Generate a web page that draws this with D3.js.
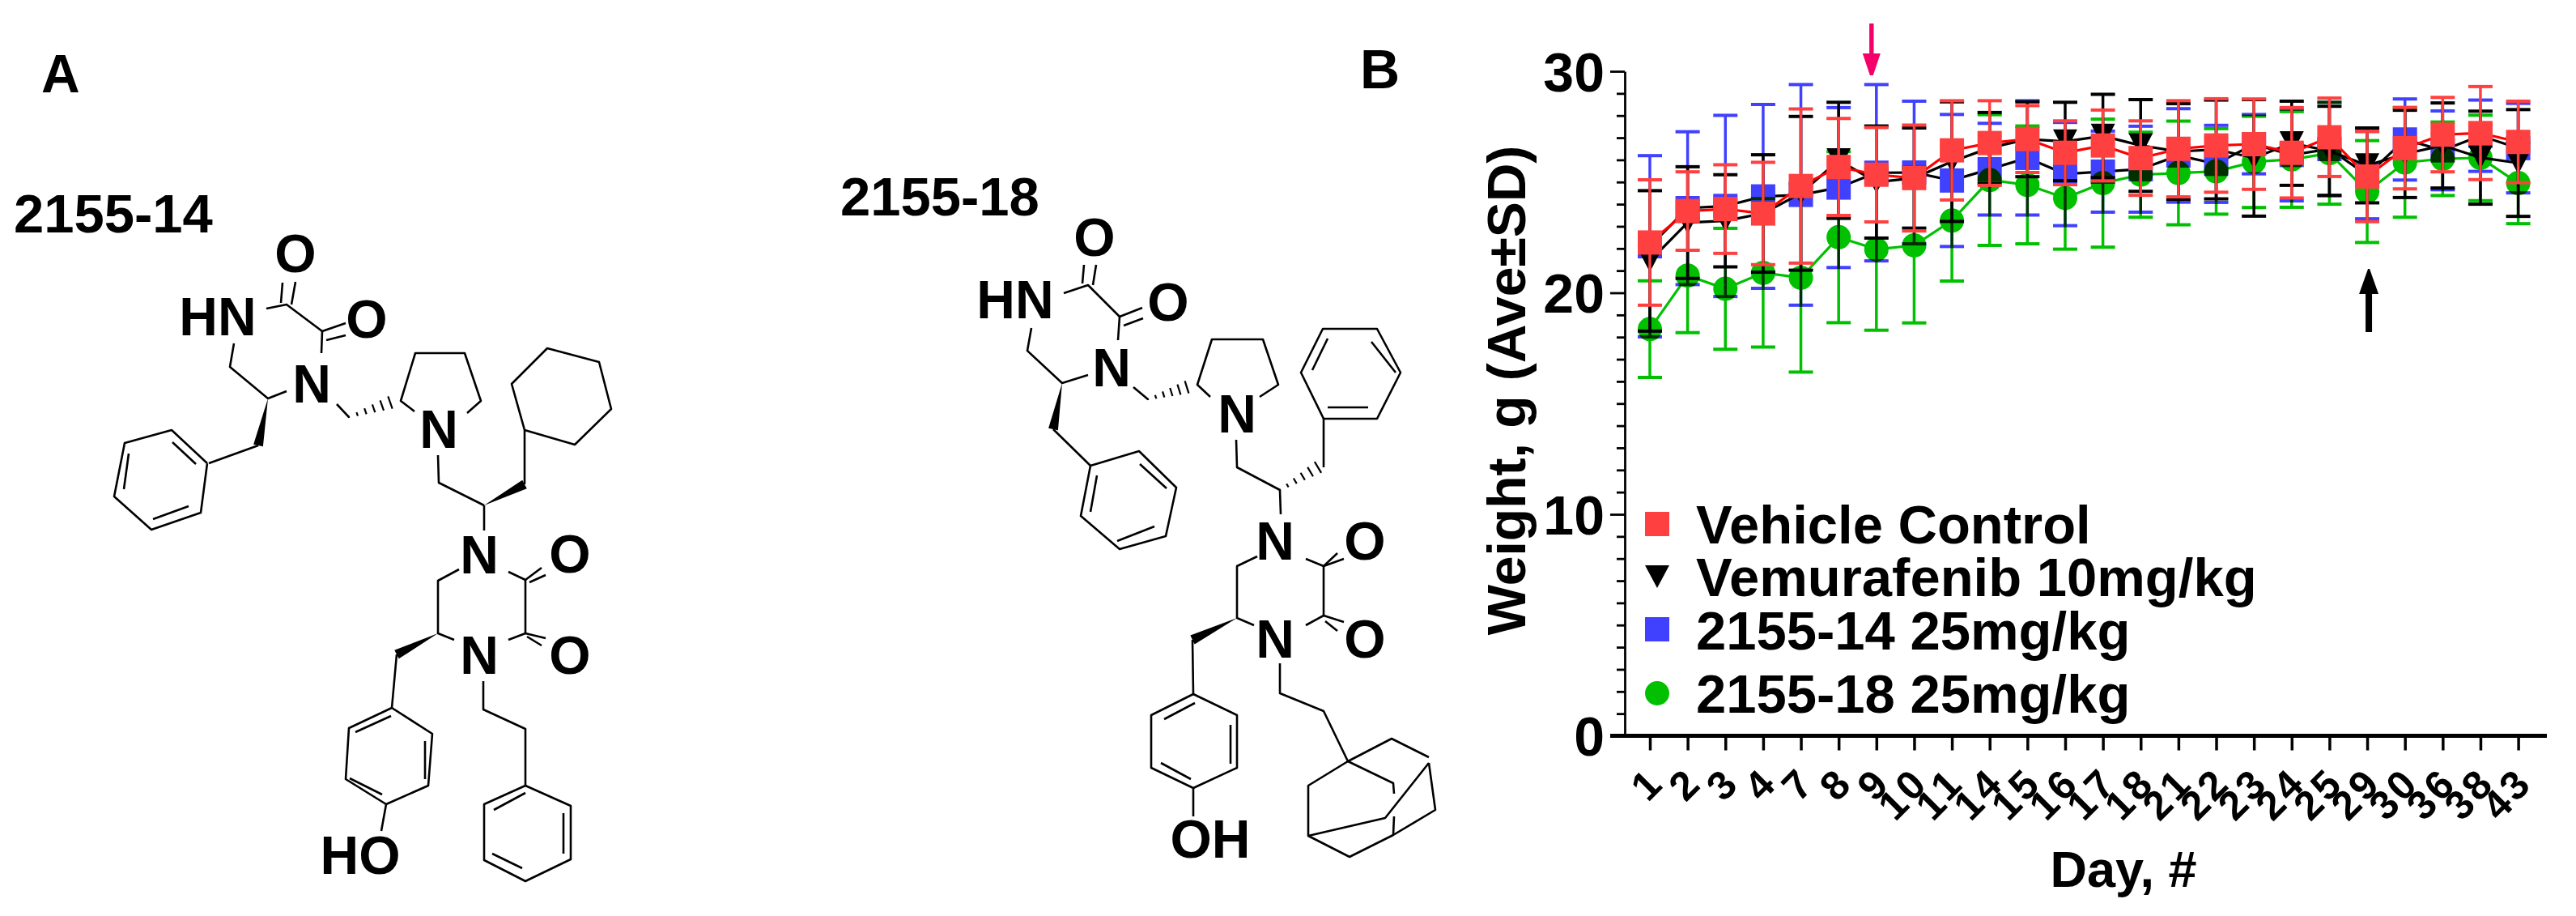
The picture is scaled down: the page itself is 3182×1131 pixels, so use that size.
<!DOCTYPE html>
<html><head><meta charset="utf-8">
<script src="https://cdn.jsdelivr.net/npm/d3@7"></script>
<style>html,body{margin:0;background:#fff}svg{display:block}text{font-family:"Liberation Sans",Arial,sans-serif;font-weight:bold;fill:#000}</style>
</head><body><div id="c"></div>
<script>
const days=[1,2,3,4,7,8,9,10,11,14,15,16,17,18,21,22,23,24,25,29,30,36,38,43];
const vehicleMean=[22.27,23.69,23.78,23.58,24.82,25.68,25.33,25.18,26.43,26.76,26.94,26.32,26.65,26.08,26.50,26.65,26.71,26.32,27.02,25.25,26.53,27.14,27.21,26.81];
const vehicleSD=[2.83,1.77,2.00,2.31,3.48,2.19,2.13,2.39,2.24,1.91,1.51,1.44,1.60,1.68,2.17,2.11,2.04,2.04,1.77,2.04,1.84,1.68,2.10,1.84];
const vemuMean=[21.44,23.17,23.25,23.58,24.49,25.98,25.00,25.18,25.92,26.54,26.93,26.83,27.08,26.65,26.38,26.47,26.09,26.75,26.41,25.75,26.27,26.65,26.10,25.86];
const vemuSD=[3.17,2.52,2.08,2.65,3.47,2.62,2.53,2.26,2.70,1.60,1.69,1.77,1.88,2.07,2.16,2.23,2.63,1.90,2.01,1.69,1.97,1.92,2.10,2.41];
const c14Mean=[22.10,23.82,23.92,24.35,24.42,24.75,25.42,25.43,25.07,25.58,26.09,25.36,25.47,25.58,26.20,25.82,26.71,26.22,26.49,25.31,26.92,26.43,27.09,26.53];
const c14SD=[4.09,3.45,4.09,4.15,4.98,3.61,3.98,3.22,2.98,2.07,2.58,2.33,1.83,1.94,2.11,1.74,1.34,2.07,2.11,1.97,1.83,1.78,1.61,2.02];
const c18Mean=[18.36,20.78,20.18,20.90,20.68,22.51,21.96,22.14,23.26,25.09,24.87,24.28,24.95,25.33,25.41,25.48,25.91,26.02,26.30,24.57,25.88,26.05,26.09,24.95];
const c18SD=[2.18,2.58,2.73,3.35,4.26,3.86,3.65,3.50,2.73,2.95,2.66,2.31,2.89,1.92,2.34,1.93,2.06,2.16,2.30,2.30,2.47,1.66,1.93,1.83];
const seriesNames=["Vehicle Control","Vemurafenib 10mg/kg","2155-14 25mg/kg","2155-18 25mg/kg"];
const yTicks=d3.range(0,31);
const yLabelled=[0,10,20,30];

// molecule drawings: polylines of image points
const bonds14=[
[[349,349],[347,374]],[[365,348],[360,376]],[[329,381],[354,376],[398,409],[427,399]],[[403,420],[427,414]],[[398,409],[397,436]],
[[354,483],[331,492],[284,453],[289,424]],[[319,550],[258,572]],
[[256,572],[248,633],[187,654],[141,613],[154,547],[212,531],[256,572]],[[213,546],[242,573]],[[159,560],[153,604]],[[189,641],[233,625]],
[[416,499],[431,515]],[[512,508],[495,495],[513,436],[574,436],[594,495],[577,510]],
[[541,562],[542,596],[598,624]],[[648,598],[648,531]],
[[648,531],[710,549],[755,505],[740,447],[676,430],[632,474],[648,531]],
[[598,624],[598,655]],[[567,703],[541,717],[541,782],[561,790]],
[[628,706],[649,716],[669,701]],[[654,719],[674,710]],[[649,716],[649,782],[628,790]],[[649,782],[674,788]],[[651,786],[669,797]],
[[490,808],[484,874]],
[[484,874],[534,906],[529,970],[477,993],[427,962],[431,899],[484,874]],[[439,904],[483,884]],[[525,915],[525,962]],[[432,961],[472,981]],[[477,993],[471,1026]],
[[597,841],[597,876],[649,900],[649,970]],
[[649,970],[705,995],[705,1061],[649,1088],[598,1062],[598,993],[649,970]],[[610,1000],[649,979]],[[696,1004],[696,1054]],[[608,1054],[645,1072]]
];
const wedges14=[[[331,492],[319,550]],[[598,624],[648,598]],[[541,782],[490,808]]];
const hashes14=[[[431,515],[482,497]]];
const atoms14=[["O",365,312],["HN",269,390],["O",453,393],["N",385,473],["N",542,529],["N",592,684],["O",704,683],["N",592,808],["O",704,808],["HO",445,1055]];
const bonds18=[
[[1339,327],[1337,350]],[[1354,327],[1350,352]],[[1314,362],[1344,352],[1383,391],[1411,380]],[[1388,402],[1412,393]],[[1383,391],[1381,420]],
[[1344,463],[1312,473],[1269,433],[1274,405]],[[1301,530],[1347,575]],
[[1347,575],[1407,557],[1453,602],[1440,662],[1383,678],[1335,637],[1347,575]],[[1408,573],[1441,603]],[[1355,587],[1347,632]],[[1380,668],[1426,650]],
[[1400,478],[1418,493]],[[1495,490],[1479,475],[1497,419],[1560,419],[1579,475],[1556,490]],
[[1527,543],[1528,577],[1581,605]],[[1635,577],[1635,517]],
[[1635,517],[1701,517],[1730,460],[1701,406],[1634,406],[1607,460],[1635,517]],[[1640,503],[1690,503]],[[1694,422],[1724,460]],[[1640,418],[1621,457]],
[[1581,605],[1582,635]],[[1553,687],[1528,699],[1528,763],[1549,772]],
[[1613,690],[1635,699],[1660,690]],[[1635,699],[1652,683]],[[1635,699],[1635,760],[1613,772]],[[1635,760],[1660,768]],[[1637,767],[1652,779]],
[[1473,790],[1474,857]],
[[1474,857],[1528,883],[1528,948],[1474,973],[1422,948],[1422,883],[1474,857]],[[1438,888],[1476,868]],[[1520,895],[1520,943]],[[1434,942],[1471,962]],[[1474,973],[1474,1008]],
[[1581,819],[1581,856],[1635,878],[1665,940]],
[[1665,940],[1719,912],[1765,935]],[[1765,942],[1773,1000],[1721,1031],[1667,1058],[1616,1032],[1616,970],[1665,940]],
[[1665,940],[1721,967],[1722,980]],[[1722,1008],[1721,1031]],[[1765,942],[1711,1010],[1616,1032]]
];
const wedges18=[[[1312,473],[1301,530]],[[1528,763],[1473,790]]];
const hashes18=[[[1418,493],[1466,478]],[[1581,605],[1628,577]]];
const atoms18=[["O",1352,292],["HN",1254,369],["O",1443,372],["N",1373,453],["N",1528,510],["N",1575,667],["O",1686,667],["N",1575,788],["O",1686,788],["OH",1495,1035]];

const W=3182,H=1131;
const svg=d3.select("#c").append("svg").attr("width",W).attr("height",H).style("background","#fff");
const x=d3.scalePoint().domain(days).range([2038,3110.6]);
const y=d3.scaleLinear().domain([0,30]).range([908.5,88]);

// ---- structures
const lineGen=d3.line();
const mol=svg.append("g");
function drawMol(bonds,wedges,hashes,atoms){
  const g=mol.append("g");
  g.selectAll("path.b").data(bonds).join("path").attr("class","b").attr("d",d=>lineGen(d)).attr("fill","none").attr("stroke","#000").attr("stroke-width",2.6).attr("stroke-linejoin","round");
  g.selectAll("path.w").data(wedges).join("path").attr("class","w").attr("fill","#000").attr("d",([a,b])=>{
    const dx=b[0]-a[0],dy=b[1]-a[1],l=Math.hypot(dx,dy),nx=-dy/l*6,ny=dx/l*6;
    return lineGen([a,[b[0]+nx,b[1]+ny],[b[0]-nx,b[1]-ny]])+"Z";});
  hashes.forEach(([a,b])=>{
    const dx=b[0]-a[0],dy=b[1]-a[1],l=Math.hypot(dx,dy),ux=-dy/l,uy=dx/l;
    d3.range(6).forEach(i=>{const t=i/5,w=1+t*7,cx=a[0]+dx*t,cy=a[1]+dy*t;
      g.append("path").attr("d",lineGen([[cx-ux*w,cy-uy*w],[cx+ux*w,cy+uy*w]])).attr("stroke","#000").attr("stroke-width",2.2);});
  });
  g.selectAll("text").data(atoms).join("text").text(d=>d[0]).attr("x",d=>d[1]).attr("y",d=>d[2]).attr("dy","0.36em").attr("text-anchor","middle").attr("font-size",66);
}
drawMol(bonds14,wedges14,hashes14,atoms14);
drawMol(bonds18,wedges18,hashes18,atoms18);

// ---- panel text
const panelText=[["A",51,114,66],["2155-14",17,287,67],["B",1680,109,68],["2155-18",1038,266,67]];
svg.append("g").selectAll("text").data(panelText).join("text").text(d=>d[0]).attr("x",d=>d[1]).attr("y",d=>d[2]).attr("font-size",d=>d[3]);

// ---- axes
const yAxis=d3.axisLeft(y).tickValues(yTicks).tickSizeOuter(0).tickFormat(d=>yLabelled.includes(d)?d:"");
const gy=svg.append("g").attr("transform","translate(2007,0)").call(yAxis);
gy.select(".domain").attr("stroke","#000").attr("stroke-width",2.8);
gy.selectAll(".tick line").attr("stroke","#000").attr("stroke-width",2.8).attr("x2",d=>d%10===0?-18:-10);
gy.selectAll(".tick text").attr("x",-25).attr("font-size",68).attr("dy","0.36em").attr("font-family","Liberation Sans").attr("font-weight","bold");

const xAxis=d3.axisBottom(x).tickSizeOuter(0).tickSize(18);
const gx=svg.append("g").attr("transform","translate(0,908.5)").call(xAxis);
gx.select(".domain").remove();
gx.append("line").attr("x1",1989).attr("x2",3146).attr("stroke","#000").attr("stroke-width",5);
gx.selectAll(".tick line").attr("stroke","#000").attr("stroke-width",3.5);
// tick labels: each digit leans 45° left; the last digit sits in the top slot, the first digit below-left of it
const tickFont=50, adv=tickFont*0.556, shX=-21, shY=24;
gx.selectAll(".tick text").each(function(d){
  const s=String(d), t=d3.select(this).attr("font-size",tickFont).attr("font-family","Liberation Sans").attr("font-weight","bold").attr("text-anchor","start");
  t.attr("rotate","-45").attr("y",83).attr("dy",null);
  if(s.length===1){t.attr("x",-3).attr("dx",null);}
  else{t.attr("x",-3+shX).attr("y",83+shY).attr("dx",`0 ${-shX-adv}`).attr("dy",`0 ${-shY}`);}
});

svg.append("text").text("Weight, g (Ave±SD)").attr("font-size",66).attr("text-anchor","middle").attr("transform","translate(1884,482) rotate(-90)");
svg.append("text").text("Day, #").attr("font-size",63).attr("text-anchor","middle").attr("x",2623).attr("y",1095);

// ---- series
const sym={square:d3.symbol().type(d3.symbolSquare).size(900)(),
  circle:d3.symbol().type(d3.symbolCircle).size(Math.PI*15*15)()};
const triPath="M-15,-15L15,-15L0,14Z";
const series=[
 {name:seriesNames[3],mean:c18Mean,sd:c18SD,bar:"#00C000",line:"#00C000",mark:sym.circle},
 {name:seriesNames[2],mean:c14Mean,sd:c14SD,bar:"#4040FF",line:"#000",mark:sym.square,blend:"multiply"},
 {name:seriesNames[1],mean:vemuMean,sd:vemuSD,bar:"#000",line:"#000",mark:triPath},
 {name:seriesNames[0],mean:vehicleMean,sd:vehicleSD,bar:"#FF4040",line:"#FF0000",mark:sym.square}
];
const line=d3.line().x(d=>x(d.day)).y(d=>y(d.m));
series.forEach(s=>{
  const pts=days.map((day,i)=>({day,m:s.mean[i],sd:s.sd[i]}));
  const g=svg.append("g");
  if(s.blend) g.style("mix-blend-mode",s.blend);
  g.append("path").datum(pts).attr("d",line).attr("fill","none").attr("stroke",s.line).attr("stroke-width",3.2);
  const e=g.selectAll("g.e").data(pts).join("g").attr("class","e").attr("stroke",s.bar);
  e.append("line").attr("x1",d=>x(d.day)).attr("x2",d=>x(d.day)).attr("y1",d=>y(d.m+d.sd)).attr("y2",d=>y(d.m-d.sd)).attr("stroke-width",3.5);
  [1,-1].forEach(k=>e.append("line").attr("x1",d=>x(d.day)-15).attr("x2",d=>x(d.day)+15).attr("y1",d=>y(d.m+k*d.sd)).attr("y2",d=>y(d.m+k*d.sd)).attr("stroke-width",4));
  g.selectAll("path.m").data(pts).join("path").attr("class","m").attr("d",s.mark).attr("fill",s.bar).attr("transform",d=>`translate(${x(d.day)},${y(d.m)})`);
});

// ---- arrows at the dosing days
const arrows=[{day:9,top:true,color:"#F5006A"},{day:29,top:false,color:"#000"}];
arrows.forEach(a=>{
  const cx=x(a.day)+(a.top?-6:2);
  const p=a.top?[[cx-2.7,29],[cx+2.7,29],[cx+2.7,66],[cx+11,66],[cx+2,93],[cx-2,93],[cx-11,66],[cx-2.7,66]]
               :[[cx-4,410],[cx+4,410],[cx+4,363],[cx+12,363],[cx+1,332],[cx-1,332],[cx-12,363],[cx-4,363]];
  svg.append("path").attr("d",lineGen(p)+"Z").attr("fill",a.color);
});

// ---- legend
const legendRows=[
 {name:seriesNames[0],fill:"#FF4040",mark:sym.square,my:647,by:671},
 {name:seriesNames[1],fill:"#000",mark:"M-15,-8L15,-8L0,20Z",my:706,by:736},
 {name:seriesNames[2],fill:"#4040FF",mark:sym.square,my:777,by:802},
 {name:seriesNames[3],fill:"#00C000",mark:sym.circle,my:856,by:880}
];
const lg=svg.append("g");
lg.selectAll("path").data(legendRows).join("path").attr("d",d=>d.mark).attr("fill",d=>d.fill).attr("transform",d=>`translate(2047,${d.my})`);
lg.selectAll("text").data(legendRows).join("text").text(d=>d.name).attr("x",2095).attr("y",d=>d.by).attr("font-size",67);
</script></body></html>
